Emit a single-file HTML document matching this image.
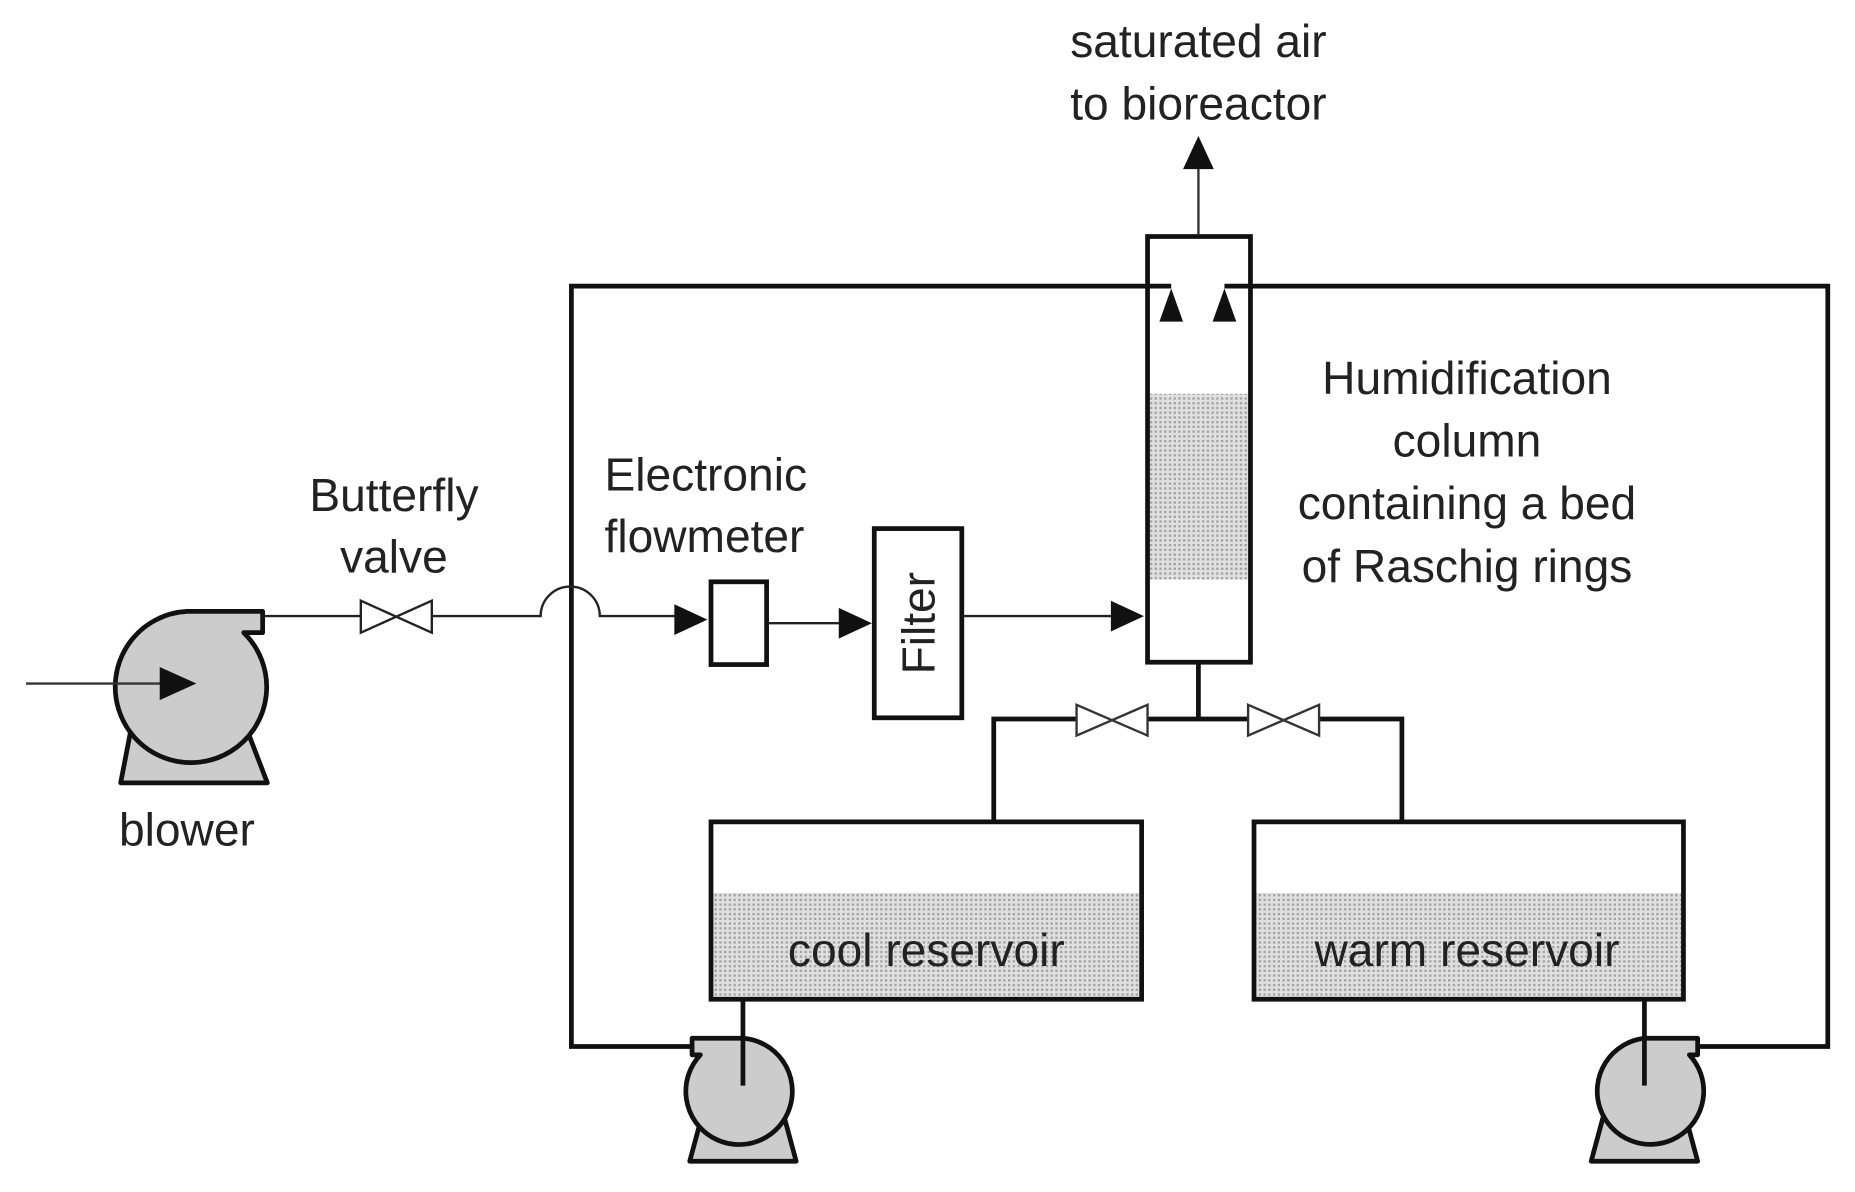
<!DOCTYPE html>
<html><head><meta charset="utf-8"><style>html,body{margin:0;padding:0;background:#fff}svg{display:block}</style></head>
<body>
<svg width="1855" height="1192" viewBox="0 0 1568 1008" preserveAspectRatio="none" xmlns="http://www.w3.org/2000/svg" font-family="Liberation Sans, sans-serif" fill="#222">
<defs>
<pattern id="dots" width="4" height="4" patternUnits="userSpaceOnUse"><rect width="4" height="4" fill="#e0e0e0"/><rect width="2" height="2" fill="#a4a4a4"/></pattern>
</defs>
<g font-size="39" text-anchor="middle">
<text x="1013" y="48">saturated air</text>
<text x="1013" y="101">to bioreactor</text>
</g>
<line x1="1013" y1="198" x2="1013" y2="140" stroke="#333" stroke-width="2"/>
<polygon points="1013,115 1000,143 1026,143" fill="#111"/>
<g stroke="#111" stroke-width="4" fill="none">
<polyline points="990,242 483,242 483,885 585,885"/>
<polyline points="1035,242 1545,242 1545,885 1435,885"/>
</g>
<polygon points="990,244 980,272 1000,272" fill="#111"/>
<polygon points="1035,244 1025,272 1045,272" fill="#111"/>
<rect x="972" y="333" width="83" height="157" fill="url(#dots)"/>
<rect x="970" y="200" width="87" height="360" fill="none" stroke="#111" stroke-width="4"/>
<g stroke="#111" stroke-width="4" fill="none">
<polyline points="1013,560 1013,608"/>
<polyline points="840,695 840,608 910,608"/>
<polyline points="970,608 1055,608"/>
<polyline points="1115,608 1185,608 1185,695"/>
</g>
<g stroke="#333" stroke-width="2" fill="#fff">
<polygon points="910,596 970,622 970,596 910,622"/>
<polygon points="1055,596 1115,622 1115,596 1055,622"/>
</g>
<rect x="603" y="755" width="360" height="88" fill="url(#dots)"/>
<rect x="601" y="695" width="364" height="150" fill="none" stroke="#111" stroke-width="4"/>
<rect x="1062" y="755" width="359" height="88" fill="url(#dots)"/>
<rect x="1060" y="695" width="363" height="150" fill="none" stroke="#111" stroke-width="4"/>
<g font-size="39" text-anchor="middle">
<text x="783" y="817">cool reservoir</text>
<text x="1240" y="817">warm reservoir</text>
</g>
<g fill="#ccc" stroke="#111" stroke-width="4" stroke-linejoin="round">
<polygon points="593,945 663,945 673,982 583,982"/>
<path d="M628,878 L585,878 L585,892 L592,892 A45,45 0 1,0 628,878 Z"/>
<polygon points="1355,945 1425,945 1435,982 1345,982"/>
<path d="M1390,878 L1435,878 L1435,892 L1428,892 A45,45 0 1,1 1390,878 Z"/>
</g>
<g stroke="#111" stroke-width="4">
<line x1="628" y1="845" x2="628" y2="918"/>
<line x1="1390" y1="845" x2="1390" y2="918"/>
</g>
<g fill="#ccc" stroke="#111" stroke-width="4" stroke-linejoin="round">
<polygon points="112,610 206,610 226,662 102,662"/>
<path d="M158,517 L222,517 L222,535 L206,535 A64,64 0 1,1 158,517 Z"/>
</g>
<line x1="22" y1="578" x2="140" y2="578" stroke="#333" stroke-width="2"/>
<polygon points="166,578 135,564 135,592" fill="#111"/>
<text x="158" y="715" font-size="39" text-anchor="middle">blower</text>
<g stroke="#222" stroke-width="2" fill="none">
<line x1="222" y1="521" x2="305" y2="521"/>
<polygon points="305,508 365,535 365,508 305,535" fill="#fff"/>
<path d="M365,521 L457,521 A25,25 0 0,1 507,521 L572,521"/>
<line x1="648" y1="527" x2="712" y2="527"/>
<line x1="813" y1="521" x2="942" y2="521"/>
</g>
<polygon points="598,524 570,511 570,537" fill="#111"/>
<polygon points="737,527 709,514 709,540" fill="#111"/>
<polygon points="967,521 939,508 939,534" fill="#111"/>
<rect x="601" y="492" width="47" height="70" fill="#fff" stroke="#111" stroke-width="4"/>
<rect x="739" y="447" width="74" height="160" fill="#fff" stroke="#111" stroke-width="4"/>
<text x="0" y="0" font-size="39" text-anchor="middle" transform="translate(790,527) rotate(-90)">Filter</text>
<g font-size="39" text-anchor="middle">
<text x="333" y="432">Butterfly</text>
<text x="333" y="484">valve</text>
<text x="1240" y="333">Humidification</text>
<text x="1240" y="386">column</text>
<text x="1240" y="439">containing a bed</text>
<text x="1240" y="492">of Raschig rings</text>
</g>
<g font-size="39">
<text x="511" y="415">Electronic</text>
<text x="511" y="467">flowmeter</text>
</g>
</svg>
</body></html>
